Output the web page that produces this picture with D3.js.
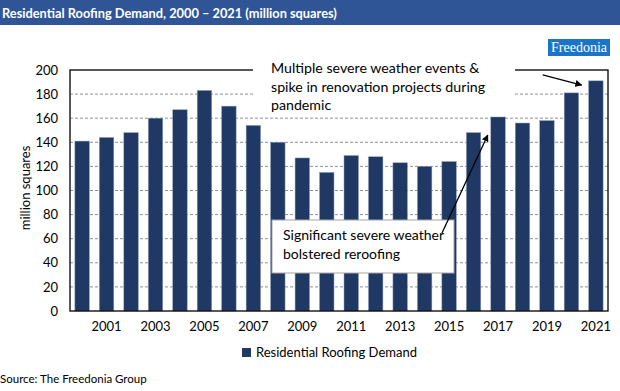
<!DOCTYPE html>
<html><head><meta charset="utf-8">
<script src="https://cdn.jsdelivr.net/npm/d3@7"></script>
<style>
body{margin:0;background:#fff;}
svg{display:block;font-family:Lato,"Open Sans",sans-serif;}
</style></head>
<body><svg id="c" width="620" height="391"></svg>
<script>
const years = ["2000","2001","2002","2003","2004","2005","2006","2007","2008","2009","2010","2011","2012","2013","2014","2015","2016","2017","2018","2019","2020","2021"];
const demand = [141,144,148,160,167,183,170,154,140,127,115,129,128,123,120,124,148,161,156,158,181,191];
const yTicks = [0,20,40,60,80,100,120,140,160,180,200];
const xLabels = ["2001","2003","2005","2007","2009","2011","2013","2015","2017","2019","2021"];
const title = "Residential Roofing Demand, 2000 \u2013 2021 (million squares)";
const seriesName = "Residential Roofing Demand";
const yTitle = "million squares";
const source = "Source: The Freedonia Group";
const note1 = ["Multiple severe weather events &","spike in renovation projects during","pandemic"];
const note2 = ["Significant severe weather","bolstered reroofing"];

const svg = d3.select("#c");
const L=70,R=608,T=70,B=311;
const navy="#203864";
const x=d3.scaleBand().domain(years).range([L,R]).paddingInner(0.41).paddingOuter(0.2);
const y=d3.scaleLinear().domain([0,200]).range([B,T]);

// title bar
svg.append("rect").attr("x",0).attr("y",0).attr("width",620).attr("height",25).attr("fill","#2F5597");
svg.append("text").attr("x",2).attr("y",18).attr("fill","#fff").attr("font-size",12.8).attr("font-weight","bold").text(title);

// logo
const lg=svg.append("g");
lg.append("rect").attr("x",548).attr("y",39).attr("width",62).attr("height",17).attr("fill","#1A75C9");
lg.append("text").attr("x",579).attr("y",52).attr("text-anchor","middle").attr("fill","#fff").style("font-family","'Liberation Serif','DejaVu Serif',serif").attr("font-size",14).text("Freedonia");

// gridlines
svg.append("g").selectAll("line").data(yTicks.filter(d=>d>0&&d<200)).join("line")
  .attr("x1",L).attr("x2",R).attr("y1",d=>y(d)).attr("y2",d=>y(d))
  .attr("stroke","#909090").attr("stroke-width",1).attr("stroke-dasharray","3,2");

// bars
svg.append("g").selectAll("rect").data(years).join("rect")
  .attr("x",d=>x(d)).attr("width",x.bandwidth())
  .attr("y",(d,i)=>y(demand[i])).attr("height",(d,i)=>B-y(demand[i]))
  .attr("fill",navy).attr("stroke","#8a9ab5").attr("stroke-width",0.5);

// frame
svg.append("rect").attr("x",L).attr("y",T).attr("width",R-L).attr("height",B-T).attr("fill","none").attr("stroke","#000").attr("stroke-width",1.3);

// y axis
const ya=svg.append("g").attr("transform",`translate(${L},0)`).call(d3.axisLeft(y).tickValues(yTicks).tickSize(0).tickPadding(12));
ya.select(".domain").remove();
ya.selectAll("text").attr("font-size",13).attr("fill","#000").style("font-family","Lato,sans-serif");

// x axis
const xa=svg.append("g").attr("transform",`translate(0,${B})`).call(d3.axisBottom(x).tickValues(xLabels).tickSize(0).tickPadding(11));
xa.select(".domain").remove();
xa.selectAll("text").attr("font-size",13).attr("fill","#000").style("font-family","Lato,sans-serif");

// y title
svg.append("text").attr("transform","translate(30,188) rotate(-90)").attr("text-anchor","middle").attr("font-size",13).text(yTitle);

// arrow marker
svg.append("defs").append("marker").attr("id","ah").attr("viewBox","0 0 10 10").attr("refX",9).attr("refY",5)
  .attr("markerWidth",7).attr("markerHeight",7).attr("orient","auto").attr("markerUnits","userSpaceOnUse")
  .append("path").attr("d","M0,0L10,5L0,10Z").attr("fill","#000");

// annotation 1
svg.append("rect").attr("x",253).attr("y",58).attr("width",262).attr("height",55).attr("fill","#fff");
const t1=svg.append("text").attr("font-size",14.2).attr("fill","#000");
note1.forEach((s,i)=>t1.append("tspan").attr("x",271).attr("y",73+i*18.5).text(s));
svg.append("line").attr("x1",x("2019")+3).attr("y1",y(196)).attr("x2",x("2020")+x.bandwidth()+3).attr("y2",y(187.5))
  .attr("stroke","#000").attr("stroke-width",1.3).attr("marker-end","url(#ah)");

// annotation 2
svg.append("rect").attr("x",272).attr("y",220).attr("width",182).attr("height",53).attr("fill","#fff").attr("stroke","#a6a6a6").attr("stroke-width",1);
const t2=svg.append("text").attr("font-size",14).attr("fill","#000");
note2.forEach((s,i)=>t2.append("tspan").attr("x",283).attr("y",240+i*18.5).text(s));
svg.append("line").attr("x1",442).attr("y1",233).attr("x2",x("2016")+x.bandwidth()+7).attr("y2",y(146))
  .attr("stroke","#000").attr("stroke-width",1.3).attr("marker-end","url(#ah)");

// legend
svg.append("rect").attr("x",242).attr("y",348).attr("width",9).attr("height",9).attr("fill",navy);
svg.append("text").attr("x",256).attr("y",357).attr("font-size",13).text(seriesName);

// source
svg.append("text").attr("x",0).attr("y",383).attr("font-size",11.5).text(source);
</script></body></html>
